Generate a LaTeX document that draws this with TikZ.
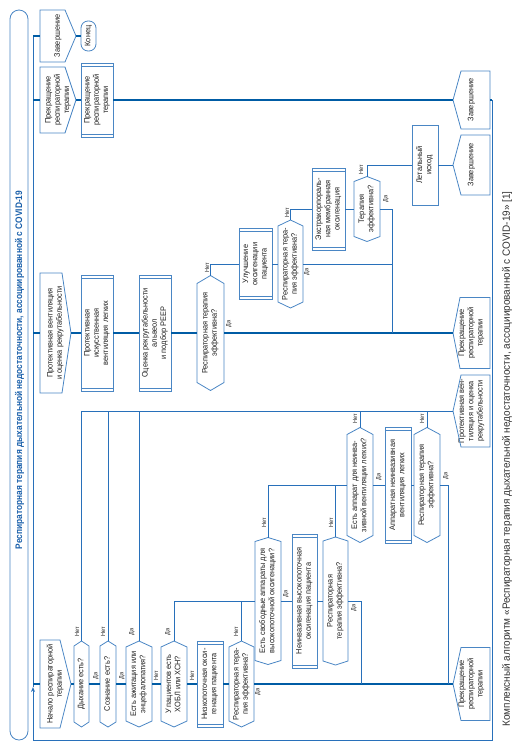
\documentclass[tikz,border=0pt]{standalone}
\usepackage{fontspec}
\usepackage{graphicx}
\usetikzlibrary{arrows.meta}
\newfontfamily\nf[FakeStretch=0.92]{Liberation Sans}
\newfontfamily\tf[FakeStretch=0.88]{Liberation Sans}
\newfontfamily\cf[FakeStretch=0.95]{Liberation Sans}
\definecolor{nb}{RGB}{74,134,196}
\definecolor{trk}{RGB}{0,92,165}
\definecolor{cn}{RGB}{40,112,186}
\definecolor{ttl}{RGB}{25,95,170}
\definecolor{txt}{RGB}{30,30,30}
\definecolor{cap}{RGB}{50,50,50}
\newcommand\rt[1]{\rotatebox{90}{\begin{tabular}{@{}c@{}}#1\end{tabular}}}
\tikzset{
  base/.style={inner sep=0pt, outer sep=0pt, draw=none, font=\nf\fontsize{8}{9.2}\selectfont, text=txt},
  sz/.style 2 args={minimum width=#1pt, minimum height=#2pt},
  proc/.style={base, draw=nb, line width=0.8pt, path picture={
     \draw[nb, line width=0.7pt]
       ([yshift=-3pt]path picture bounding box.north west) -- ([yshift=-3pt]path picture bounding box.north east)
       ([yshift=3pt]path picture bounding box.south west) -- ([yshift=3pt]path picture bounding box.south east);}},
  plainbox/.style={base, draw=nb, line width=0.8pt},
  term/.style={base, draw=nb, line width=0.8pt, rounded corners=7pt},
  outl/.style={draw=nb, line width=0.8pt, line join=miter},
  thk/.style={draw=trk, line width=2.2pt},
  thn/.style={draw=cn, line width=0.9pt},
  yn/.style={inner sep=0pt, font=\nf\fontsize{6}{7}\selectfont, text=txt},
}
\begin{document}
\begin{tikzpicture}[x=1pt,y=-1pt]
\useasboundingbox (0,0) rectangle (528,750);

% title
\node[term, rounded corners=9pt, sz={18}{730}] (T) at (19,375) {};
\node[inner sep=0pt, font=\tf\bfseries\fontsize{9.5}{10}\selectfont, text=ttl] (TT) at (19.5,370)
  {\rotatebox{90}{Респираторная терапия дыхательной недостаточности, ассоциированной с COVID-19}};
% caption
\node[inner sep=0pt, font=\cf\fontsize{10.5}{12}\selectfont, text=cap] (C) at (507,459)
  {\rotatebox{90}{Комплексный алгоритм «Респираторная терапия дыхательной недостаточности, ассоциированной с COVID-19» [1]}};

% frame coordinates
\coordinate (f1) at (33,36);
\coordinate (f2) at (33,100);
\coordinate (f3) at (33,333);
\coordinate (f4) at (33,684);
\coordinate (fa) at (33,687);
\coordinate (fBL) at (33,740);
\coordinate (fBR) at (492,740);
\coordinate (fTR) at (492,100);
\coordinate (j1) at (392,333);
\coordinate (j2) at (361,684);
\coordinate (j3) at (448,684);

% track 1
\node[base, sz={36}{52}] (L1) at (58,36) {\rt{Завершение}};
\node[term, sz={15}{30}] (K) at (88.5,36) {\rt{Конец}};
% track 2
\node[base, sz={36}{66}] (L2) at (58,100) {\rt{Прекращение\\респираторной\\терапии}};
\node[proc, sz={32}{74}] (P1) at (97,100) {\rt{Прекращение\\респираторной\\терапии}};
\node[base, sz={37}{58}] (R1) at (471.5,100) {\rt{Завершение}};
\node[base, sz={37}{60}] (R2) at (471.5,165) {\rt{Завершение}};
\node[plainbox, sz={26}{80}] (LE) at (425,165) {\rt{Летальный\\исход}};
\node[base, sz={26}{65}] (H3) at (367,209) {\rt{Терапия\\эффективна?}};
\node[proc, sz={33}{82}] (P5) at (328.5,209) {\rt{Экстракорпораль-\\ная мембранная\\оксигенация}};
\node[base, sz={25}{88}] (H2) at (290.5,264) {\rt{Респираторная тера-\\пия эффективна?}};
\node[proc, sz={33}{71}] (P4) at (255.5,264) {\rt{Улучшение\\оксигенации\\пациента}};
% track 3
\node[base, sz={31}{120}] (L3) at (55.5,333) {\rt{Протективная вентиляция\\и оценка рекрутабельности}};
\node[proc, sz={32}{116}] (P2) at (97,333) {\rt{Протективная\\искусственная\\вентиляция легких}};
\node[proc, sz={32}{116}] (P3) at (155,333) {\rt{Оценка рекрутабельности\\альвеол\\и подбор PEEP}};
\node[base, sz={27}{115}] (H1) at (210.5,333) {\rt{Респираторная терапия\\эффективна?}};
\node[base, sz={37}{71}] (R3) at (471.5,333) {\rt{Прекращение\\респираторной\\терапии}};
\node[base, sz={37}{72}] (R4) at (471.5,411) {\rt{Протективная вен-\\тиляция и оценка\\рекрутабельности}};
% middle
\node[base, sz={26}{115}] (H11) at (360,485) {\rt{Есть аппарат для неинва-\\зивной вентиляции легких?}};
\node[proc, sz={26}{116}] (P8) at (398,485) {\rt{Аппаратная неинвазивная\\вентиляция легких}};
\node[base, sz={26}{115}] (H12) at (427,485) {\rt{Респираторная терапия\\эффективна?}};
\node[base, sz={26}{127}] (H9) at (268,601) {\rt{Есть свободные аппараты для\\высокопоточной оксигенации?}};
\node[proc, sz={25}{134}] (P7) at (304.5,601) {\rt{Неинвазивная высокопоточная\\оксигенация пациента}};
\node[base, sz={25}{128}] (H10) at (335.5,601) {\rt{Респираторная\\терапия эффективна?}};
% track 4
\node[base, sz={31}{88}] (L4) at (55.5,684) {\rt{Начало респираторной\\терапии}};
\node[base, sz={15}{86}] (H4) at (81.5,684) {\rt{Дыхание есть?}};
\node[base, sz={16}{86}] (H5) at (108,684) {\rt{Сознание есть?}};
\node[base, sz={26}{86}] (H6) at (139,684) {\rt{Есть ажитация или\\энцефалопатия?}};
\node[base, sz={26}{86}] (H7) at (174,684) {\rt{У пациентов есть\\ХОБЛ или ХСН?}};
\node[proc, sz={26}{86}] (P6) at (210,684) {\rt{Низкопоточная окси-\\генация пациента}};
\node[base, sz={25}{86}] (H8) at (241.5,684) {\rt{Респираторная тера-\\пия эффективна?}};
\node[base, sz={37}{73}] (R5) at (471.5,684) {\rt{Прекращение\\респираторной\\терапии}};

% outlines: hexagons
\foreach \n/\p in {H1/8pt,H2/6pt,H3/5pt,H4/5pt,H5/5pt,H6/6pt,H7/6pt,H8/6pt,H9/4pt,H10/4pt,H11/7pt,H12/7pt}{
  \draw[outl] (\n.north) -- ([yshift=-\p]\n.north east) -- ([yshift=\p]\n.south east) -- (\n.south)
     -- ([yshift=\p]\n.south west) -- ([yshift=-\p]\n.north west) -- cycle;
}
% right-pointing pentagons
\foreach \n/\p in {L1/11pt,L2/11pt,L3/9pt,L4/11pt}{
  \draw[outl] (\n.north west) -- ([xshift=-\p]\n.north east) -- (\n.east) -- ([xshift=-\p]\n.south east)
     -- (\n.south west) -- cycle;
}
% left-pointing pentagons
\foreach \n/\p in {R1/8pt,R2/8pt,R3/7pt,R4/8pt,R5/8pt}{
  \draw[outl] (\n.north east) -- (\n.south east) -- ([xshift=\p]\n.south west) -- (\n.west)
     -- ([xshift=\p]\n.north west) -- cycle;
}

% frame
\draw[thn, -{Stealth[length=5pt,width=4pt]}] (fTR) -- (fBR) -- (fBL) -- (fa);
\draw[thn] (fa) -- (f1);

% thick tracks
\draw[thk] (f1) -- (L1.west);
\draw[thk] (L1.east) -- (K.west);
\draw[thk] (f2) -- (L2.west);
\draw[thk] (L2.east) -- (P1.west);
\draw[thk] (P1.east) -- (R1.west);
\draw[thk] (R1.east) -- (fTR);
\draw[thk] (f3) -- (L3.west);
\draw[thk] (L3.east) -- (P2.west);
\draw[thk] (P2.east) -- (P3.west);
\draw[thk] (P3.east) -- (H1.west);
\draw[thk] (H1.east) -- (R3.west);
\draw[thk] (f4) -- (L4.west);
\draw[thk] (L4.east) -- (H4.west);
\draw[thk] (H4.east) -- (H5.west);
\draw[thk] (H5.east) -- (H6.west);
\draw[thk] (H6.east) -- (H7.west);
\draw[thk] (H7.east) -- (P6.west);
\draw[thk] (P6.east) -- (H8.west);
\draw[thk] (H8.east) -- (R5.west);

% thin connectors
\draw[thn] (H1.north) |- (P4.west);
\draw[thn] (P4.east) -- (H2.west);
\draw[thn] (H2.north) |- (P5.west);
\draw[thn] (P5.east) -- (H3.west);
\draw[thn] (H3.north) |- (LE.west);
\draw[thn] (LE.east) -- (R2.west);
\draw[thn] (H3.east) -| (j1);
\draw[thn] (H2.east) -- (H2.east -| j1);

\draw[thn] (H4.north) |- (R4.west);
\draw[thn] (H5.north) -- (H5.north |- R4.west);
\draw[thn] (H6.north) -- (H6.north |- R4.west);
\draw[thn] (H11.north) -- (H11.north |- R4.west);
\draw[thn] (H12.north) -- (H12.north |- R4.west);

\draw[thn] (H7.north) |- (H9.west);
\draw[thn] (H8.north) -- (H8.north |- H9.west);
\draw[thn] (H9.east) -- (P7.west);
\draw[thn] (P7.east) -- (H10.west);
\draw[thn] (H10.east) -| (j2);
\draw[thn] (H9.north) |- (H11.west);
\draw[thn] (H10.north) -- (H10.north |- H11.west);
\draw[thn] (H11.east) -- (P8.west);
\draw[thn] (P8.east) -- (H12.west);
\draw[thn] (H12.east) -| (j3);

% yes/no labels
\node[yn] (y1) at (207,268) {\rotatebox{90}{Нет}};
\node[yn] (y2) at (229,324) {\rotatebox{90}{Да}};
\node[yn] (y3) at (287,213) {\rotatebox{90}{Нет}};
\node[yn] (y4) at (307,272) {\rotatebox{90}{Да}};
\node[yn] (y5) at (361,170) {\rotatebox{90}{Нет}};
\node[yn] (y6) at (386,199) {\rotatebox{90}{Да}};
\node[yn] (y7) at (77,632) {\rotatebox{90}{Нет}};
\node[yn] (y8) at (96,676) {\rotatebox{90}{Да}};
\node[yn] (y9) at (103,632) {\rotatebox{90}{Нет}};
\node[yn] (y10) at (122,676) {\rotatebox{90}{Да}};
\node[yn] (y11) at (132,632) {\rotatebox{90}{Да}};
\node[yn] (y12) at (156,676) {\rotatebox{90}{Нет}};
\node[yn] (y13) at (168,632) {\rotatebox{90}{Да}};
\node[yn] (y14) at (192,676) {\rotatebox{90}{Нет}};
\node[yn] (y15) at (236,632) {\rotatebox{90}{Нет}};
\node[yn] (y16) at (258,692) {\rotatebox{90}{Да}};
\node[yn] (y17) at (264,523) {\rotatebox{90}{Нет}};
\node[yn] (y18) at (286,594) {\rotatebox{90}{Да}};
\node[yn] (y19) at (331,523) {\rotatebox{90}{Нет}};
\node[yn] (y20) at (354,608) {\rotatebox{90}{Да}};
\node[yn] (y21) at (355,419) {\rotatebox{90}{Нет}};
\node[yn] (y22) at (379,477) {\rotatebox{90}{Да}};
\node[yn] (y23) at (422,419) {\rotatebox{90}{Нет}};
\node[yn] (y24) at (446,476) {\rotatebox{90}{Да}};
\end{tikzpicture}
\end{document}
